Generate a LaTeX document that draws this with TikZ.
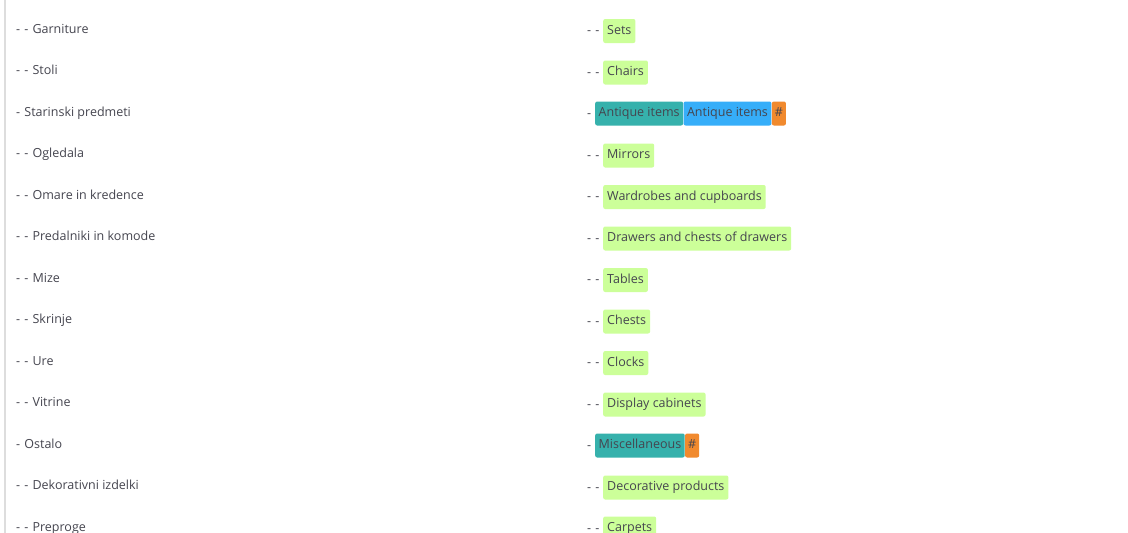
\documentclass[tikz,border=0pt]{standalone}
\usepackage{fontspec}
\setmainfont{Open Sans}
\definecolor{txt}{HTML}{45454F}
\definecolor{tgreen}{HTML}{CCFF99}
\definecolor{tteal}{HTML}{36B1AC}
\definecolor{tblue}{HTML}{36AEF9}
\definecolor{torange}{HTML}{F18A2E}
\definecolor{rule}{HTML}{DDDDDD}
\begin{document}
\begin{tikzpicture}[x=1pt,y=-1pt,
  lbl/.style={anchor=west, inner sep=0pt, text=txt, font=\fontsize{12.5}{14}\selectfont, text height=9pt, text depth=2.6pt},
  tag/.style={anchor=west, inner xsep=4pt, inner ysep=0pt, minimum height=24pt, rounded corners=2pt, text=txt, font=\fontsize{12.5}{14}\selectfont, text height=9pt, text depth=2.6pt},
  gtag/.style={tag, fill=tgreen},
  ttag/.style={tag, fill=tteal, inner xsep=3.5pt},
  btag/.style={tag, fill=tblue, inner xsep=3.5pt},
  otag/.style={tag, fill=torange, inner xsep=3pt}]
\useasboundingbox (0,0) rectangle (1128,533);
\fill[white] (0,0) rectangle (1128,533);
\draw[line width=2pt, rule] (5,0) -- (5,533);
% left column
\node[lbl] (l1) at (16,30) {-\,\,-\,\,Garniture};
\node[lbl] (l2) at (16,71.5) {-\,\,-\,\,Stoli};
\node[lbl] (l3) at (16,113) {-\,\,Starinski predmeti};
\node[lbl] (l4) at (16,154.5) {-\,\,-\,\,Ogledala};
\node[lbl] (l5) at (16,196) {-\,\,-\,\,Omare in kredence};
\node[lbl] (l6) at (16,237.5) {-\,\,-\,\,Predalniki in komode};
\node[lbl] (l7) at (16,279) {-\,\,-\,\,Mize};
\node[lbl] (l8) at (16,320.5) {-\,\,-\,\,Skrinje};
\node[lbl] (l9) at (16,362) {-\,\,-\,\,Ure};
\node[lbl] (l10) at (16,403.5) {-\,\,-\,\,Vitrine};
\node[lbl] (l11) at (16,445) {-\,\,Ostalo};
\node[lbl] (l12) at (16,486.5) {-\,\,-\,\,Dekorativni izdelki};
\node[lbl] (l13) at (16,528) {-\,\,-\,\,Preproge};
% right column
\node[lbl] (d1) at (587,31.5) {-\,\,-};
\node[gtag] (r1) at (603,31) {Sets};
\node[lbl] (d2) at (587,73) {-\,\,-};
\node[gtag] (r2) at (603,72.5) {Chairs};
\node[lbl] (d3) at (587,114) {-};
\node[ttag] (r3a) at (595,113.5) {Antique items};
\node[btag] (r3b) at (r3a.east) {Antique items};
\node[otag] (r3c) at (r3b.east) {\#};
\node[lbl] (d4) at (587,156) {-\,\,-};
\node[gtag] (r4) at (603,155.5) {Mirrors};
\node[lbl] (d5) at (587,197.5) {-\,\,-};
\node[gtag] (r5) at (603,197) {Wardrobes and cupboards};
\node[lbl] (d6) at (587,239) {-\,\,-};
\node[gtag] (r6) at (603,238.5) {Drawers and chests of drawers};
\node[lbl] (d7) at (587,280.5) {-\,\,-};
\node[gtag] (r7) at (603,280) {Tables};
\node[lbl] (d8) at (587,322) {-\,\,-};
\node[gtag] (r8) at (603,321.5) {Chests};
\node[lbl] (d9) at (587,363.5) {-\,\,-};
\node[gtag] (r9) at (603,363) {Clocks};
\node[lbl] (d10) at (587,405) {-\,\,-};
\node[gtag] (r10) at (603,404.5) {Display cabinets};
\node[lbl] (d11) at (587,446) {-};
\node[ttag] (r11a) at (595,445.5) {Miscellaneous};
\node[otag] (r11b) at (r11a.east) {\#};
\node[lbl] (d12) at (587,488) {-\,\,-};
\node[gtag] (r12) at (603,487.5) {Decorative products};
\node[lbl] (d13) at (587,529) {-\,\,-};
\node[gtag] (r13) at (603,528.5) {Carpets};
\end{tikzpicture}
\end{document}
